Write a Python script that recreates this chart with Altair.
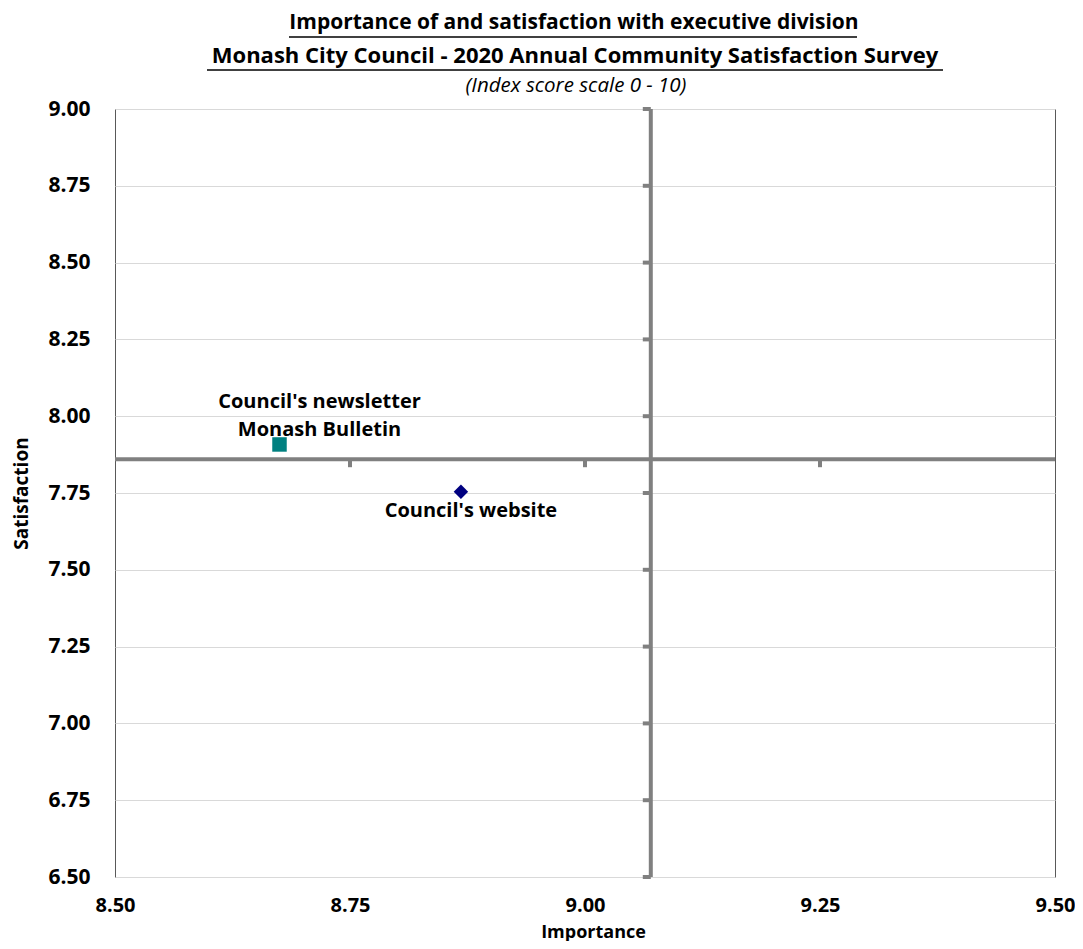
import altair as alt
import pandas as pd

# ---- data ----
services = ["Council's newsletter\nMonash Bulletin", "Council's website"]
importance = [8.675, 8.868]
satisfaction = [7.908, 7.754]
mean_importance = [9.07]
mean_satisfaction = [7.86]
x_ticks = [8.50, 8.75, 9.00, 9.25, 9.50]
y_ticks = [6.50, 6.75, 7.00, 7.25, 7.50, 7.75, 8.00, 8.25, 8.50, 8.75, 9.00]
title_lines = [
    "Importance of and satisfaction with executive division",
    "Monash City Council - 2020 Annual Community Satisfaction Survey",
]
subtitle = "(Index score scale 0 - 10)"

FONT = "Open Sans"
GRAY = "#808080"

df = pd.DataFrame({"service": services, "importance": importance, "satisfaction": satisfaction})
mean_df = pd.DataFrame({"mi": mean_importance, "ms": mean_satisfaction})
xt_df = pd.DataFrame({"x": x_ticks[1:-1], "y": mean_satisfaction * (len(x_ticks) - 2)})
yt_df = pd.DataFrame({"y": y_ticks, "x": mean_importance * len(y_ticks)})

x_scale = alt.Scale(domain=[8.5, 9.5], nice=False, zero=False)
y_scale = alt.Scale(domain=[6.5, 9.0], nice=False, zero=False)

x_axis = alt.Axis(
    values=x_ticks, format=".2f", title="Importance", grid=False, domain=False, ticks=False,
    labelFont=FONT, labelFontSize=20, labelFontWeight="bold", labelColor="black",
    labelPadding=18, labelFlush=False, labelOverlap=False,
    titleFont=FONT, titleFontSize=18, titleFontWeight="bold", titleColor="black",
    titleY=55, titleX=478, titleBaseline="middle",
)
y_axis = alt.Axis(
    values=y_ticks, format=".2f", title="Satisfaction", grid=True, gridColor="#d9d9d9", gridWidth=1,
    domain=False, ticks=False,
    labelFont=FONT, labelFontSize=21, labelFontWeight="bold", labelColor="black",
    labelPadding=25, labelFlush=False, labelOverlap=False,
    titleFont=FONT, titleFontSize=19, titleFontWeight="bold", titleColor="black",
    titleX=-94, titleY=384, titleAlign="center", titleBaseline="middle", titleAngle=270,
)


def X(field):
    return alt.X(field, scale=x_scale, axis=x_axis)


def Y(field):
    return alt.Y(field, scale=y_scale, axis=y_axis)


base = alt.Chart(df)

points = base.mark_point(filled=True, opacity=1, size=210).encode(
    x=X("importance:Q"),
    y=Y("satisfaction:Q"),
    shape=alt.Shape("service:N", scale=alt.Scale(domain=services, range=["square", "diamond"]), legend=None),
    color=alt.Color("service:N", scale=alt.Scale(domain=services, range=["#008080", "#000080"]), legend=None),
)

vline = alt.Chart(mean_df).mark_rule(color=GRAY, strokeWidth=4).encode(x=X("mi:Q"))
hline = alt.Chart(mean_df).mark_rule(color=GRAY, strokeWidth=4).encode(y=Y("ms:Q"))
xticks_m = alt.Chart(xt_df).mark_tick(orient="vertical", size=8, thickness=4, yOffset=4, color=GRAY, opacity=1).encode(
    x=X("x:Q"), y=Y("y:Q")
)
yticks_m = alt.Chart(yt_df).mark_tick(orient="horizontal", size=8, thickness=4, xOffset=-4, color=GRAY, opacity=1).encode(
    x=X("x:Q"), y=Y("y:Q")
)

label_style = dict(font=FONT, fontSize=20, fontWeight="bold", color="black", align="center")
lab1 = base.transform_filter(alt.FieldEqualPredicate(field="service", equal=services[0])).mark_text(
    dx=40, dy=-42, baseline="middle", lineBreak="\n", lineHeight=28, **label_style
).encode(x=X("importance:Q"), y=Y("satisfaction:Q"), text="service:N")
lab2 = base.transform_filter(alt.FieldEqualPredicate(field="service", equal=services[1])).mark_text(
    dx=10, dy=19, baseline="middle", **label_style
).encode(x=X("importance:Q"), y=Y("satisfaction:Q"), text="service:N")

tdf = pd.DataFrame({"t1": [title_lines[0]], "t2": [title_lines[1]], "st": [subtitle]})
tbase = alt.Chart(tdf)
t1 = tbase.mark_text(font=FONT, fontSize=21, fontWeight="bold", color="black", align="center", baseline="middle").encode(
    x=alt.value(459), y=alt.value(-86), text="t1:N")
t2 = tbase.mark_text(font=FONT, fontSize=22, fontWeight="bold", color="black", align="center", baseline="middle").encode(
    x=alt.value(460), y=alt.value(-53), text="t2:N")
st = tbase.mark_text(font=FONT, fontSize=20.5, fontStyle="italic", color="black", align="center", baseline="middle").encode(
    x=alt.value(461), y=alt.value(-23), text="st:N")
u1 = tbase.mark_rule(color="black", strokeWidth=1.5).encode(x=alt.value(174), x2=alt.value(742), y=alt.value(-72))
u2 = tbase.mark_rule(color="black", strokeWidth=1.5).encode(x=alt.value(92), x2=alt.value(828), y=alt.value(-39))

chart = alt.layer(
    vline, hline, xticks_m, yticks_m, points, lab1, lab2, t1, t2, st, u1, u2
).properties(
    width=940, height=768,
    autosize=alt.AutoSizeParams(type="none"),
    padding={"left": 107, "top": 101, "right": 20, "bottom": 64},
    background="white",
).configure_view(stroke="#595959", strokeWidth=1)

chart.save("out.html", embed_options={"renderer": "svg", "actions": False})
